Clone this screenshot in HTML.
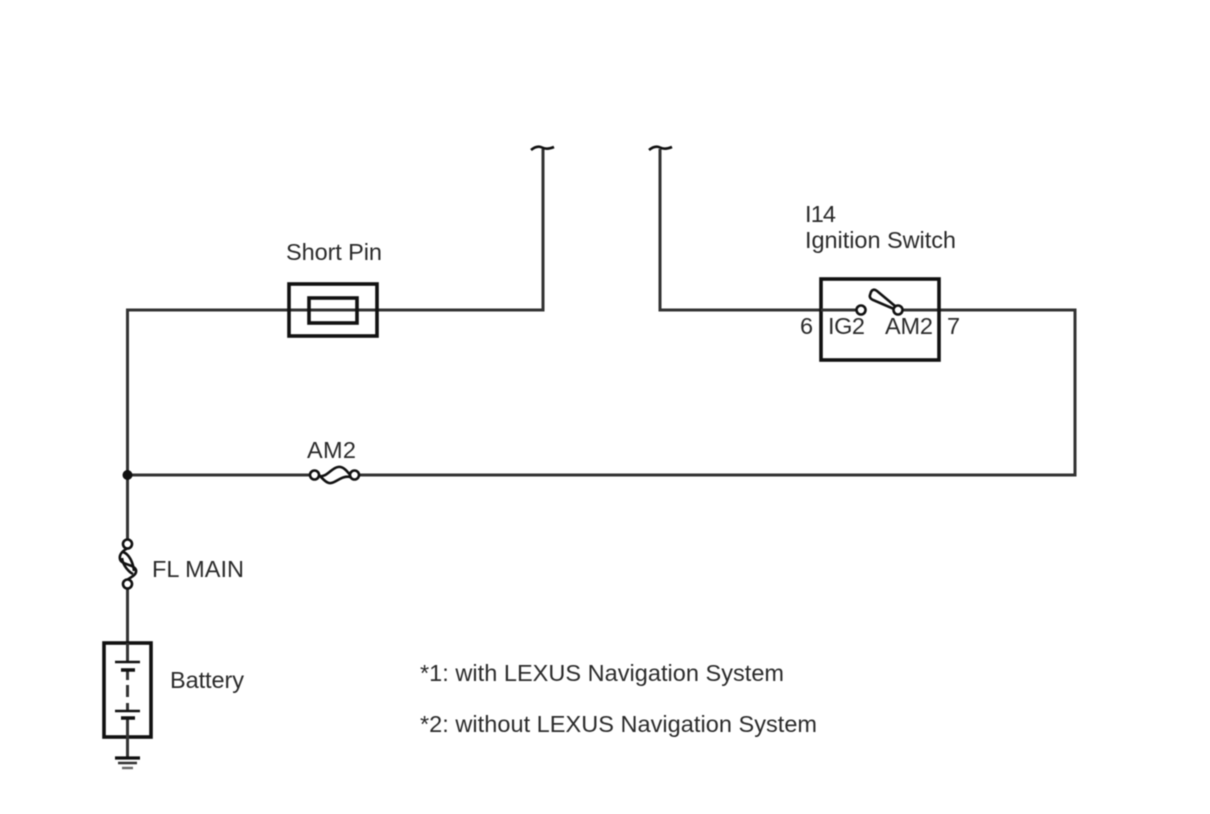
<!DOCTYPE html>
<html>
<head>
<meta charset="utf-8">
<style>
html,body{margin:0;padding:0;background:#fff;width:1210px;height:814px;overflow:hidden}
svg{display:block;filter:blur(0.45px)}
text{font-family:"Liberation Sans",sans-serif;font-size:23.5px;fill:#2a2a2a}
.w{fill:none;stroke:#333;stroke-width:3}
.b{fill:none;stroke:#111;stroke-width:3.6}
.t{fill:none;stroke:#111;stroke-width:2.6}
.c{fill:#fff;stroke:#111;stroke-width:2.6}
</style>
</head>
<body>
<svg width="1210" height="814" viewBox="0 0 1210 814" xmlns="http://www.w3.org/2000/svg">
<!-- wires -->
<path class="w" d="M543 149V310H127.500V643"/>
<path class="w" d="M660 149V310H1075V475H127.500"/>
<circle cx="127.500" cy="475" r="5" fill="#111"/>
<!-- breaks -->
<path class="t" d="M531 150q6 -5 11 -2.500t12 -.5"/>
<path class="t" d="M649 150q6 -5 11 -2.500t12 -.5"/>
<!-- short pin -->
<rect class="b" x="289" y="284" width="88" height="52"/>
<rect class="b" x="309" y="298" width="48" height="25"/>
<text x="286" y="260" textLength="96">Short Pin</text>
<!-- ignition switch -->
<rect x="821" y="279" width="118" height="81" fill="none" stroke="#111" stroke-width="3.600"/>
<path d="M852 310H895" stroke="#fff" stroke-width="5"/>
<path class="w" d="M821 310H857"/>
<text x="805" y="222" textLength="31">I14</text>
<text x="805" y="248" textLength="151">Ignition Switch</text>
<circle class="c" cx="861" cy="310" r="4.500"/>
<path class="c" d="M895 306L877 291Q873 288 871 292L870 295Q869 298 873 300L894 309Z"/>
<circle class="c" cx="898" cy="310" r="4.500"/>
<text x="800" y="334">6</text>
<text x="828" y="334" textLength="37">IG2</text>
<text x="885" y="334" textLength="48">AM2</text>
<text x="947" y="334">7</text>
<!-- AM2 fuse -->
<text x="307" y="458" textLength="49">AM2</text>
<path d="M318 475H351" stroke="#fff" stroke-width="5"/>
<path class="t" d="M318 474C323 479 327 484 331 483C337 482 342 475 351 477"/>
<path class="t" d="M318 476C327 478 331 468 338 467C343 466 347 471 351 476"/>
<circle class="c" cx="314.500" cy="475" r="4.500"/>
<circle class="c" cx="354.500" cy="475" r="4.500"/>
<!-- FL MAIN fuse -->
<path d="M127.500 548V580" stroke="#fff" stroke-width="5"/>
<path class="t" d="M128 548C122 551 119 555 120 559C121 565 134 564 136 570C137 575 131 577 127 580"/>
<path class="t" d="M123 552C129 554 133 562 134 571"/>
<path class="t" d="M122 558C123 566 129 572 133 574"/>
<circle class="c" cx="127.500" cy="544" r="4.500"/>
<circle class="c" cx="127.500" cy="584" r="4.500"/>
<text x="152" y="577" textLength="92">FL MAIN</text>
<!-- battery -->
<rect x="104" y="643" width="47" height="94" fill="none" stroke="#111" stroke-width="3.600"/>
<path class="w" d="M127.500 643V662M127.500 670V680M127.500 685V697M127.500 703V711M127.500 718V758"/>
<path stroke="#111" stroke-width="2.400" d="M115 662H140M115 711H140"/>
<path stroke="#111" stroke-width="3.400" d="M121 670H135M121 718H135"/>
<path stroke="#111" stroke-width="3.200" d="M115 758H140"/>
<path stroke="#333" stroke-width="2.600" d="M118 763H137"/>
<path stroke="#666" stroke-width="2.400" d="M122 768H133"/>
<text x="170" y="688" textLength="74">Battery</text>
<!-- notes -->
<text x="420" y="681" textLength="364">*1: with LEXUS Navigation System</text>
<text x="420" y="732" textLength="397">*2: without LEXUS Navigation System</text>
</svg>
</body>
</html>
